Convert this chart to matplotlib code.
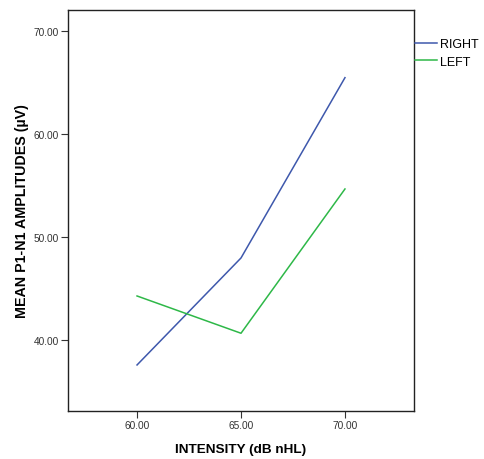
import matplotlib
matplotlib.use('Agg')
import matplotlib.pyplot as plt

plt.rcParams['font.family'] = ['Liberation Sans', 'DejaVu Sans']

intensity = [60, 65, 70]
right = [37.57, 47.96, 65.47]
left = [44.27, 40.65, 54.66]
x_ticks = [60, 65, 70]
y_ticks = [40, 50, 60, 70]

fig = plt.figure(figsize=(4.84, 4.60), dpi=100)
# axes box in pixels: left 68, right 414, top 11, bottom 412
ax = fig.add_axes([68 / 484, 1 - 412 / 460, (414 - 68) / 484, (412 - 11) / 460])

ax.plot(intensity, right, color='#3E58AC', lw=1.1, label='RIGHT')
ax.plot(intensity, left, color='#2EB848', lw=1.1, label='LEFT')

ax.set_xlim(56.68, 73.32)
ax.set_ylim(33.1, 72.04)
ax.set_xticks(x_ticks)
ax.set_xticklabels([f'{v:.2f}' for v in x_ticks])
ax.set_yticks(y_ticks)
ax.set_yticklabels([f'{v:.2f}' for v in y_ticks])
ax.tick_params(direction='out', length=5, width=0.8, labelsize=7.3,
               labelcolor='#333333', color='#333333', pad=1.5)
for s in ax.spines.values():
    s.set_linewidth(1.0)
    s.set_color('#222222')

ax.set_xlabel('INTENSITY (dB nHL)', fontsize=9.7, fontweight='bold')
ax.set_ylabel('MEAN P1-N1 AMPLITUDES (\u00b5V)', fontsize=10.3, fontweight='bold')
ax.xaxis.set_label_coords(0.5, -(450 - 412) / 401, transform=ax.transAxes)
ax.yaxis.set_label_coords(-(68 - 22) / 346, 0.5, transform=ax.transAxes)
ax.xaxis.label.set_va('center')
ax.yaxis.label.set_va('center')

ax.legend(loc='upper left', bbox_to_anchor=(1.004, 0.93), frameon=False,
          fontsize=9, handlelength=1.7, handletextpad=0.25, labelspacing=0.45,
          borderpad=0, borderaxespad=0)

fig.savefig('out.png', dpi=100)
